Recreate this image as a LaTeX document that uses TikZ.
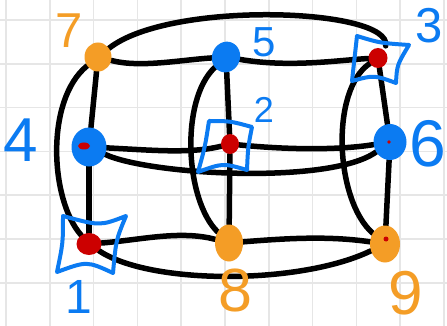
\documentclass[tikz,border=0pt]{standalone}
\usepackage{fontspec}
\setmainfont{Liberation Sans}
\usetikzlibrary{shapes.geometric}
\definecolor{gridgray}{HTML}{E6E6E6}
\definecolor{dotorange}{HTML}{F49D26}
\definecolor{dotblue}{HTML}{0B7BF2}
\definecolor{dotred}{HTML}{CC0000}
\pgfdeclarelayer{gridlayer}
\pgfdeclarelayer{edgelayer}
\pgfdeclarelayer{boxlayer}
\pgfsetlayers{gridlayer,edgelayer,boxlayer,main}
\begin{document}
\begin{tikzpicture}[x=1pt,y=-1pt,
  orangedot/.style={ellipse, fill=dotorange, inner sep=0pt},
  bluedot/.style={ellipse, fill=dotblue, inner sep=0pt},
  reddot/.style={ellipse, fill=dotred, inner sep=0pt},
  linkline/.style={line width=5.5pt, line cap=round, black},
  handbox/.style={draw=dotblue, line width=4pt, line join=round, line cap=round},
  bluelabel/.style={text=dotblue, inner sep=0pt},
  orangelabel/.style={text=dotorange, inner sep=0pt},
  gridline/.style={gridgray, line width=1.5pt}]
\useasboundingbox (0,0) rectangle (447,326);
% grid
\begin{pgfonlayer}{gridlayer}
\fill[white] (0,0) rectangle (447,326);
\foreach \k in {0,...,10} \draw[gridline] ({6+43.8*\k},0) -- ({6+43.8*\k},326);
\foreach \k in {0,...,6} \draw[gridline] (0,{20+43.8*\k}) -- (447,{20+43.8*\k});
\end{pgfonlayer}
% nodes
\node[orangedot, minimum width=27pt, minimum height=29pt] (n7) at (98,57) {};
\node[bluedot, minimum width=28pt, minimum height=31pt, rotate=-20] (n5) at (226,57) {};
\node[reddot, minimum width=19pt, minimum height=20pt] (n3) at (378,58) {};
\node[bluedot, minimum width=35pt, minimum height=39pt] (n4) at (89,147) {};
\node[reddot, minimum width=18pt, minimum height=20pt] (n2) at (230,144) {};
\node[bluedot, minimum width=33pt, minimum height=36pt] (n6) at (390,142) {};
\node[reddot, minimum width=25pt, minimum height=22pt] (n1) at (89,244) {};
\node[orangedot, minimum width=28pt, minimum height=37pt] (n8) at (229,243) {};
\node[orangedot, minimum width=30pt, minimum height=37pt] (n9) at (385,244) {};
% red smudges
\fill[dotred] (84,146) ellipse (6pt and 3.5pt);
\fill[dotred] (389,142) circle (1.8pt);
\fill[dotred] (386,239) circle (2.5pt);
% edges
\begin{pgfonlayer}{edgelayer}
\draw[linkline] (n7) .. controls (140,68) and (180,60) .. (n5);
\draw[linkline, shorten >=5pt] (n7) .. controls (170,0) and (392,8) .. (n3.north east);
\draw[linkline] (n7) -- (n4);
\draw[linkline] (n7) .. controls (45,100) and (50,200) .. (n1);
\draw[linkline] (n5) .. controls (290,68) and (340,60) .. (n3);
\draw[linkline] (n5) -- (n2);
\draw[linkline] (n5) .. controls (180,100) and (185,200) .. (n8);
\draw[linkline] (n3) -- (n6);
\draw[linkline] (n3) .. controls (330,90) and (335,200) .. (n9);
\draw[linkline] (n6) -- (n9);
\draw[linkline] (n4) .. controls (150,150) and (190,154) .. (n2);
\draw[linkline] (n4) .. controls (150,175) and (330,185) .. (n6);
\draw[linkline] (n2) .. controls (290,150) and (340,150) .. (n6);
\draw[linkline] (n2) -- (n8);
\draw[linkline] (n4) -- (n1);
\draw[linkline] (n1) .. controls (140,240) and (180,230) .. (n8);
\draw[linkline] (n1) .. controls (150,285) and (300,285) .. (n9);
\draw[linkline] (n8) .. controls (290,238) and (330,236) .. (n9);
\end{pgfonlayer}
% hand-drawn boxes
\begin{pgfonlayer}{boxlayer}
\draw[handbox] (357,36) .. controls (380,43) .. (409,45) .. controls (397,65) .. (396,83)
  .. controls (374,75) .. (352,81) .. controls (355,58) .. cycle;
\draw[handbox] (209,121) .. controls (230,121) .. (252,127) .. controls (248,147) .. (247,170)
  .. controls (223,163) .. (198,172) .. controls (205,147) .. cycle;
\draw[handbox] (63,216) .. controls (100,226) .. (126,216) .. controls (116,240) .. (113,273)
  .. controls (87,261) .. (57,272) .. controls (63,243) .. cycle;
\end{pgfonlayer}
% labels
\node[orangelabel, font=\fontsize{49}{49}\selectfont] (l7) at (69,31) {7};
\node[bluelabel, font=\fontsize{42}{42}\selectfont] (l5) at (264,42) {5};
\node[bluelabel, font=\fontsize{49}{49}\selectfont] (l3) at (429,26) {3};
\node[bluelabel, font=\fontsize{62}{62}\selectfont] (l4) at (21,140) {4};
\node[bluelabel, font=\fontsize{36}{36}\selectfont] (l2) at (264,110) {2};
\node[bluelabel, font=\fontsize{66}{66}\selectfont] (l6) at (428,144) {6};
\node[bluelabel, font=\fontsize{48}{48}\selectfont] (l1) at (79,297) {1};
\node[orangelabel, font=\fontsize{61}{61}\selectfont] (l8) at (235,290) {8};
\node[orangelabel, font=\fontsize{62}{62}\selectfont] (l9) at (406,293) {9};
\end{tikzpicture}
\end{document}
